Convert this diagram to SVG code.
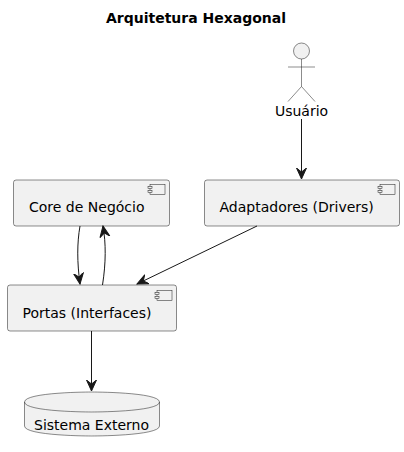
<svg xmlns="http://www.w3.org/2000/svg" width="404" height="452" viewBox="0 0 404 452">
<defs>
<marker id="arrow" markerUnits="userSpaceOnUse" markerWidth="12" markerHeight="13" refX="11" refY="6" orient="auto">
<path d="M0,1 L11,6 L0,11 L4,6 Z" fill="#181818" stroke="#181818" stroke-width="1"/>
</marker>
</defs>
<style>
.s{fill:#F1F1F1;stroke:#181818;stroke-width:.5}
.t{font-family:"DejaVu Sans",sans-serif;font-size:14px;fill:#000}
.c{fill:none;stroke:#181818;stroke-width:1}
.l{fill:none;stroke:#181818;stroke-width:.5}
</style>
<rect width="404" height="452" fill="#fff"/>
<text x="196" y="23" text-anchor="middle" font-family="'DejaVu Sans',sans-serif" font-size="14px" font-weight="bold" fill="#000">Arquitetura Hexagonal</text>
<g id="usuario">
<circle cx="301.5" cy="51" r="8" class="s"/>
<path d="M301.5,59 V86.5 M288,67 H315 M301.5,86.5 L288,101.5 M301.5,86.5 L315,101.5" class="l"/>
<text class="t" x="301.5" y="116" text-anchor="middle">Usuário</text>
</g>
<g id="core">
<rect x="13.5" y="180" width="156" height="46" rx="2.5" class="s"/>
<rect x="150" y="184.500" width="15" height="10" class="s"/>
<rect x="148" y="186.500" width="4" height="2" class="s"/>
<rect x="148" y="190.500" width="4" height="2" class="s"/>
<text class="t" x="29" y="212">Core de Negócio</text>
</g>
<g id="adaptadores">
<rect x="204.500" y="180" width="195" height="46" rx="2.5" class="s"/>
<rect x="380" y="184.500" width="15" height="10" class="s"/>
<rect x="378" y="186.500" width="4" height="2" class="s"/>
<rect x="378" y="190.500" width="4" height="2" class="s"/>
<text class="t" x="219.500" y="212">Adaptadores (Drivers)</text>
</g>
<g id="portas">
<rect x="7.500" y="285" width="169" height="46" rx="2.5" class="s"/>
<rect x="157" y="290.500" width="15" height="10" class="s"/>
<rect x="155" y="292.500" width="4" height="2" class="s"/>
<rect x="155" y="296.500" width="4" height="2" class="s"/>
<text class="t" x="22.500" y="318">Portas (Interfaces)</text>
</g>
<g id="sistema">
<path d="M24.500,402 C24.500,392 91.500,392 91.500,392 C91.500,392 159.500,392 159.500,402 V426 C159.500,436 91.500,436 91.500,436 C91.500,436 24.500,436 24.500,426 Z" class="s"/>
<path d="M24.500,402 C24.500,412 91.500,412 91.500,412 C91.500,412 159.500,412 159.500,402" class="l"/>
<text class="t" x="34" y="429.500">Sistema Externo</text>
</g>
<g id="connectors">
<path d="M301.500,119 V179" class="c" marker-end="url(#arrow)"/>
<path d="M80,226 C77,243 77,262 80,284" class="c" marker-end="url(#arrow)"/>
<path d="M102.500,285 C106,263 106,243 103,226" class="c" marker-end="url(#arrow)"/>
<path d="M257,226 L137,284" class="c" marker-end="url(#arrow)"/>
<path d="M91.500,331 V391" class="c" marker-end="url(#arrow)"/>
</g>
</svg>
